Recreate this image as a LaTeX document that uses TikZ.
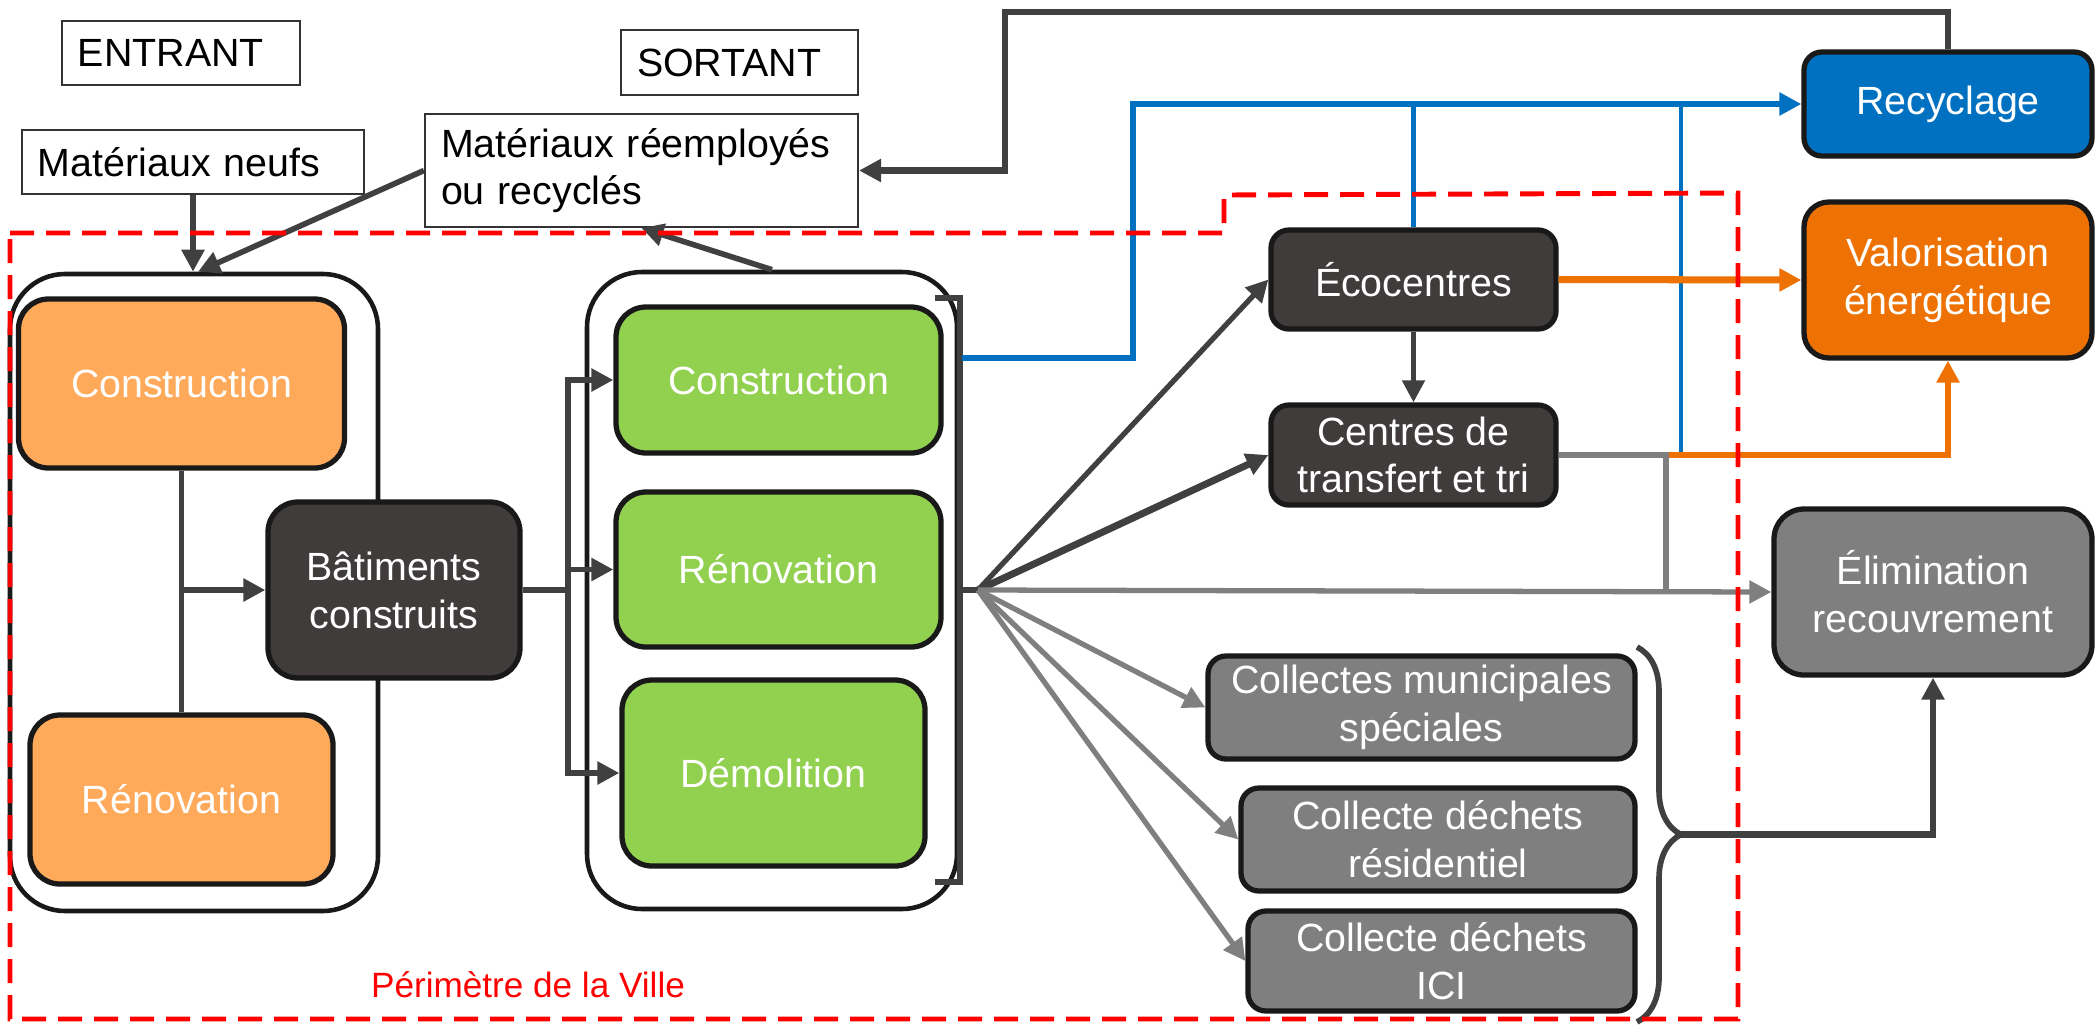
\documentclass[tikz,border=0pt]{standalone}
\usepackage{fontspec}
\setsansfont{Liberation Sans}
\usepackage{xcolor}
\usepackage{tikz}
\usetikzlibrary{shapes.geometric, positioning, arrows.meta, calc}
\usetikzlibrary{decorations.pathreplacing}

\definecolor{orangeclair}{HTML}{FFAA5B}
\definecolor{vert}{HTML}{92D050}
\definecolor{sombre}{HTML}{403C3B}
\definecolor{bleu}{HTML}{0070C0}
\definecolor{orangefonce}{HTML}{EE7203}
\definecolor{gris}{HTML}{7F7F7F}
\definecolor{trait}{HTML}{404040}
\definecolor{rouge}{HTML}{FF0000}

\begin{document}
\begin{tikzpicture}[
        font=\sffamily\fontsize{11.2pt}{13.6pt}\selectfont,
        % Styles for the flow chart
        textbox/.style={
            rectangle, draw=black!80, fill=white, line width=0.6pt,
            inner xsep=0.16cm, inner ysep=0pt, align=left
        },
        container/.style={
            rectangle, rounded corners=0.55cm, draw=black!90,
            line width=1.3pt, fill=white
        },
        stage/.style={
            rectangle, rounded corners=0.18cm, draw=black!90,
            line width=1.5pt, text=white, inner sep=0pt, align=center
        },
        flow/.style={
            draw=trait, line width=1.6pt,
            -{Triangle[length=2.2mm, width=2.2mm]}
        }
    ]
    \useasboundingbox (0,0) rectangle (20.95,-10.24);

    % 1. ENTRANT / SORTANT
    \node[textbox, text width=2.06cm, minimum height=0.64cm] (entrant) at (1.81,-0.53) {ENTRANT};
    \node[textbox, text width=2.05cm, minimum height=0.65cm] (sortant) at (7.395,-0.625) {SORTANT};
    \node[textbox, text width=3.10cm, minimum height=0.64cm] (neufs) at (1.93,-1.62) {Matériaux neufs};
    \node[textbox, text width=4.01cm, minimum height=1.13cm] (reemploi) at (6.415,-1.705) {Matériaux réemployés\\ou recyclés};

    % 2. CHANTIERS (containers)
    \node[container, minimum width=3.68cm, minimum height=6.37cm] (avant) at (1.94,-5.925) {};
    \node[container, minimum width=3.70cm, minimum height=6.37cm] (apres) at (7.72,-5.905) {};

    \node[stage, fill=orangeclair, rounded corners=0.3cm, minimum width=3.26cm, minimum height=1.69cm] (constA) at (1.815,-3.835) {Construction};
    \node[stage, fill=orangeclair, rounded corners=0.3cm, minimum width=3.03cm, minimum height=1.69cm] (renoA) at (1.815,-7.995) {Rénovation};

    \draw[trait, line width=1.5pt] (constA.south) -- (renoA.north);

    \node[stage, fill=sombre, rounded corners=0.3cm, minimum width=2.52cm, minimum height=1.76cm] (batiments) at (3.94,-5.9) {Bâtiments\\construits};

    \node[stage, fill=vert, rounded corners=0.3cm, minimum width=3.25cm, minimum height=1.46cm] (constB) at (7.785,-3.80) {Construction};
    \node[stage, fill=vert, rounded corners=0.3cm, minimum width=3.25cm, minimum height=1.55cm] (renoB) at (7.785,-5.695) {Rénovation};
    \node[stage, fill=vert, rounded corners=0.3cm, minimum width=3.03cm, minimum height=1.86cm] (demol) at (7.735,-7.73) {Démolition};

    % 3. DESTINATIONS
    \node[stage, fill=sombre, minimum width=2.85cm, minimum height=0.99cm] (ecocentres) at (14.135,-2.795) {Écocentres};
    \node[stage, fill=sombre, minimum width=2.85cm, minimum height=1.0cm] (centres) at (14.135,-4.55) {Centres de\\transfert et tri};
    \node[stage, fill=bleu, minimum width=2.88cm, minimum height=1.04cm] (recyclage) at (19.48,-1.04) {Recyclage};
    \node[stage, fill=orangefonce, rounded corners=0.25cm, minimum width=2.88cm, minimum height=1.56cm] (valorisation) at (19.48,-2.80) {Valorisation\\énergétique};
    \node[stage, fill=gris, rounded corners=0.3cm, minimum width=3.18cm, minimum height=1.66cm] (elimination) at (19.33,-5.92) {Élimination\\recouvrement};
    \node[stage, fill=gris, minimum width=4.27cm, minimum height=1.03cm] (municipales) at (14.215,-7.075) {Collectes municipales\\spéciales};
    \node[stage, fill=gris, minimum width=3.94cm, minimum height=1.03cm] (residentiel) at (14.38,-8.395) {Collecte déchets\\résidentiel};
    \node[stage, fill=gris, minimum width=3.87cm, minimum height=1.0cm] (ici) at (14.415,-9.61) {Collecte déchets\\ICI};

    % 4. ARROWS IN AND OUT
    \draw[flow] (neufs.south) -- (neufs.south |- avant.north);
    \draw[flow] (reemploi.west) -- ($(avant.north)+(0.04,0)$);
    \draw[flow] (apres.north) -- (reemploi.south);
    \draw[flow, line width=1.8pt] (recyclage.north) |- (10.05,-0.12) |- (reemploi.east);

    \draw[flow, line width=1.8pt] (constA.south |- batiments.west) -- (batiments.west);

    \coordinate (repartition) at (5.68,-5.9);
    \draw[trait, line width=1.7pt] (batiments.east) -- (repartition);
    \draw[flow] (repartition) |- (constB.west);
    \draw[flow] (repartition) |- (renoB.west);
    \draw[flow] (repartition) |- (demol.west);

    % 5. FAN OF WASTE FLOWS
    \coordinate (fan) at (9.78,-5.90);
    \draw[trait, line width=1.6pt] (9.35,-2.98) -| (9.60,-8.82) -- (9.35,-8.82);
    \draw[trait, line width=1.8pt] (9.60,-5.90) -- (fan);

    \draw[flow, line width=1.5pt] (fan) -- (ecocentres.west);
    \draw[flow, line width=2pt] (fan) -- (centres.west);
    \draw[flow, draw=gris, line width=1.5pt] (fan) -- (elimination.west);
    \draw[flow, draw=gris, line width=1.5pt] (fan) -- (municipales.west);
    \draw[flow, draw=gris, line width=1.5pt] (fan) -- (residentiel.west);
    \draw[flow, draw=gris, line width=1.5pt] (fan) -- (ici.west);

    \draw[flow, line width=1.4pt] (ecocentres.south) -- (centres.north);

    % 6. RECYCLAGE AND VALORISATION
    \coordinate (sortiebleue) at (9.62,-3.58);
    \draw[flow, draw=bleu, line width=1.9pt] (sortiebleue) -| (11.33,-1.04) -- (recyclage.west);
    \draw[bleu, line width=1.4pt] (ecocentres.north) -- (ecocentres.north |- recyclage.west);
    \draw[bleu, line width=1.4pt] (16.81,-4.55) -- (16.81,-1.04);

    \coordinate (tri) at (16.66,-4.55);
    \draw[flow, draw=orangefonce, line width=2pt] (ecocentres.east) -- (valorisation.west);
    \draw[flow, draw=orangefonce, line width=1.8pt] (tri) -| (valorisation.south);
    \draw[gris, line width=1.8pt] (centres.east) -- (tri) -- (tri |- elimination.west);

    % 7. COLLECTES TO ELIMINATION
    \draw[trait, line width=1.6pt, decorate, decoration={brace, amplitude=0.44cm}] (16.37,-6.47) -- (16.37,-10.22);
    \coordinate (accolade) at (16.81,-8.345);
    \draw[flow, line width=1.8pt] (accolade) -| (elimination.south);

    % 8. PERIMETRE
    \draw[rouge, line width=1.4pt, dash pattern=on 0.24cm off 0.12cm]
        (0.10,-2.33) -- (12.24,-2.33) -- (12.24,-1.95) -- (17.38,-1.93)
        -- (17.38,-10.19) -- (0.10,-10.19) -- cycle;
    \node[text=rouge, font=\sffamily\fontsize{10pt}{12pt}\selectfont] (perimetre) at (5.28,-9.85) {Périmètre de la Ville};

\end{tikzpicture}
\end{document}
